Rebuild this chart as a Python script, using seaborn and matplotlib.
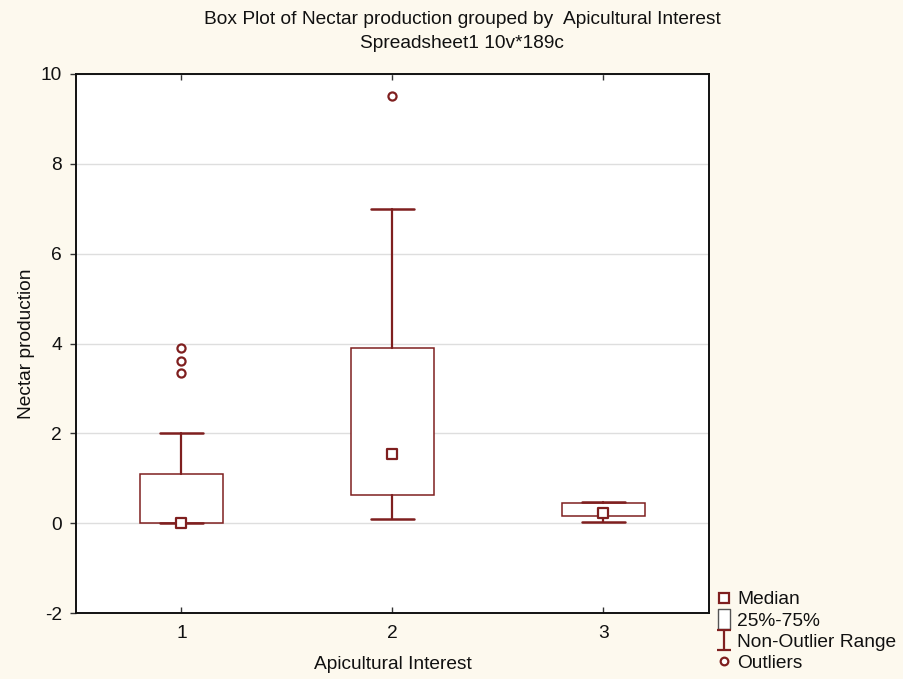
import numpy as np
import pandas as pd
import matplotlib
matplotlib.use("Agg")
import matplotlib.pyplot as plt
from matplotlib.lines import Line2D
from matplotlib.path import Path
import seaborn as sns

# ---- data ----
categories = ["1", "2", "3"]
q1_vals = [0.0, 0.62, 0.15]
median_vals = [0.0, 1.55, 0.23]
q3_vals = [1.1, 3.9, 0.45]
whisker_low = [0.0, 0.1, 0.02]
whisker_high = [2.0, 7.0, 0.47]
outlier_groups = ["1", "1", "1", "2"]
outlier_vals = [3.35, 3.6, 3.9, 9.5]
y_ticks = [-2, 0, 2, 4, 6, 8, 10]

# ---- style ----
sns.set_style("white")
plt.rcParams["font.family"] = ["Liberation Sans", "DejaVu Sans"]
plt.rcParams["font.size"] = 14
plt.rcParams["text.color"] = "#111111"
plt.rcParams["axes.labelcolor"] = "#111111"
plt.rcParams["xtick.color"] = "#111111"
plt.rcParams["ytick.color"] = "#111111"

RED = "#7f1f1f"
BG = "#fdf9ee"
FS = 13.8

fig = plt.figure(figsize=(9.04, 6.79), dpi=100, facecolor=BG)
ax = fig.add_axes([76 / 904, 1 - 613 / 679, (709 - 76) / 904, (613 - 74) / 679])
ax.set_facecolor("white")

pos = {c: i for i, c in enumerate(categories)}

stats = []
for i, c in enumerate(categories):
    stats.append(dict(label=c, q1=q1_vals[i], med=median_vals[i], q3=q3_vals[i],
                      whislo=whisker_low[i], whishi=whisker_high[i], fliers=[]))

ax.bxp(stats, positions=list(range(len(categories))), widths=0.39,
       capwidths=0.2, showfliers=False, patch_artist=True,
       boxprops=dict(facecolor="white", edgecolor=RED, linewidth=1.1),
       whiskerprops=dict(color=RED, linewidth=1.6),
       capprops=dict(color=RED, linewidth=1.8),
       medianprops=dict(linewidth=0, color="none"), manage_ticks=False,
       zorder=3)

med_df = pd.DataFrame({"x": [pos[c] for c in categories], "y": median_vals})
sns.scatterplot(data=med_df, x="x", y="y", marker="s", s=52, facecolor="white",
                edgecolor=RED, linewidth=1.6, ax=ax, zorder=5, legend=False)

out_df = pd.DataFrame({"x": [pos[c] for c in outlier_groups], "y": outlier_vals})
sns.scatterplot(data=out_df, x="x", y="y", marker="o", s=34, facecolor="white",
                edgecolor=RED, linewidth=1.6, ax=ax, zorder=5, legend=False)

ax.set_xlim(-0.5, len(categories) - 0.5)
ax.set_ylim(-2, 10)
ax.set_yticks(y_ticks)
ax.set_yticklabels([str(t) for t in y_ticks])
ax.set_xticks(list(range(len(categories))))
ax.set_xticklabels(categories)
ax.yaxis.grid(True, color="#dedede", linewidth=1.0, zorder=0)
ax.set_axisbelow(True)
for s in ax.spines.values():
    s.set_color("#111111")
    s.set_linewidth(1.4)
ax.tick_params(axis="y", direction="out", length=4, width=1, color="#333333",
               labelsize=FS, pad=6, left=True)
ax.tick_params(axis="x", direction="in", length=4, width=1, color="#333333",
               labelsize=FS, pad=9, bottom=True, top=True)
ax.set_xlabel("Apicultural Interest", fontsize=FS, labelpad=10)
ax.set_ylabel("Nectar production", fontsize=FS, labelpad=4)

fig.text(462 / 904, 1 - 19 / 679, "Box Plot of Nectar production grouped by  Apicultural Interest",
         ha="center", va="center", fontsize=FS)
fig.text(462 / 904, 1 - 43 / 679, "Spreadsheet1 10v*189c", ha="center", va="center", fontsize=FS)

# legend
ipath = Path([(-0.35, 0.5), (0.35, 0.5), (0, 0.5), (0, -0.5), (-0.35, -0.5), (0.35, -0.5)],
             [Path.MOVETO, Path.LINETO, Path.MOVETO, Path.LINETO, Path.MOVETO, Path.LINETO])
rpath = Path([(-0.32, -0.5), (0.32, -0.5), (0.32, 0.5), (-0.32, 0.5), (-0.32, -0.5)],
             [Path.MOVETO, Path.LINETO, Path.LINETO, Path.LINETO, Path.CLOSEPOLY])
handles = [
    Line2D([], [], ls="", marker="s", ms=6.5, mfc="white", mec=RED, mew=1.6),
    Line2D([], [], ls="", marker=rpath, ms=14, mfc="white", mec="#555555", mew=1.0),
    Line2D([], [], ls="", marker=ipath, ms=15, color=RED, mew=1.6),
    Line2D([], [], ls="", marker="o", ms=5.5, mfc="white", mec=RED, mew=1.6),
]
labels = ["Median", "25%-75%", "Non-Outlier Range", "Outliers"]
fig.legend(handles, labels, loc="upper left", bbox_to_anchor=(716 / 904, 1 - 591 / 679),
           frameon=False, fontsize=FS, handlelength=0.8, handletextpad=0.3,
           labelspacing=0.2, borderaxespad=0, borderpad=0)

fig.savefig("out.png", dpi=100, facecolor=BG)
